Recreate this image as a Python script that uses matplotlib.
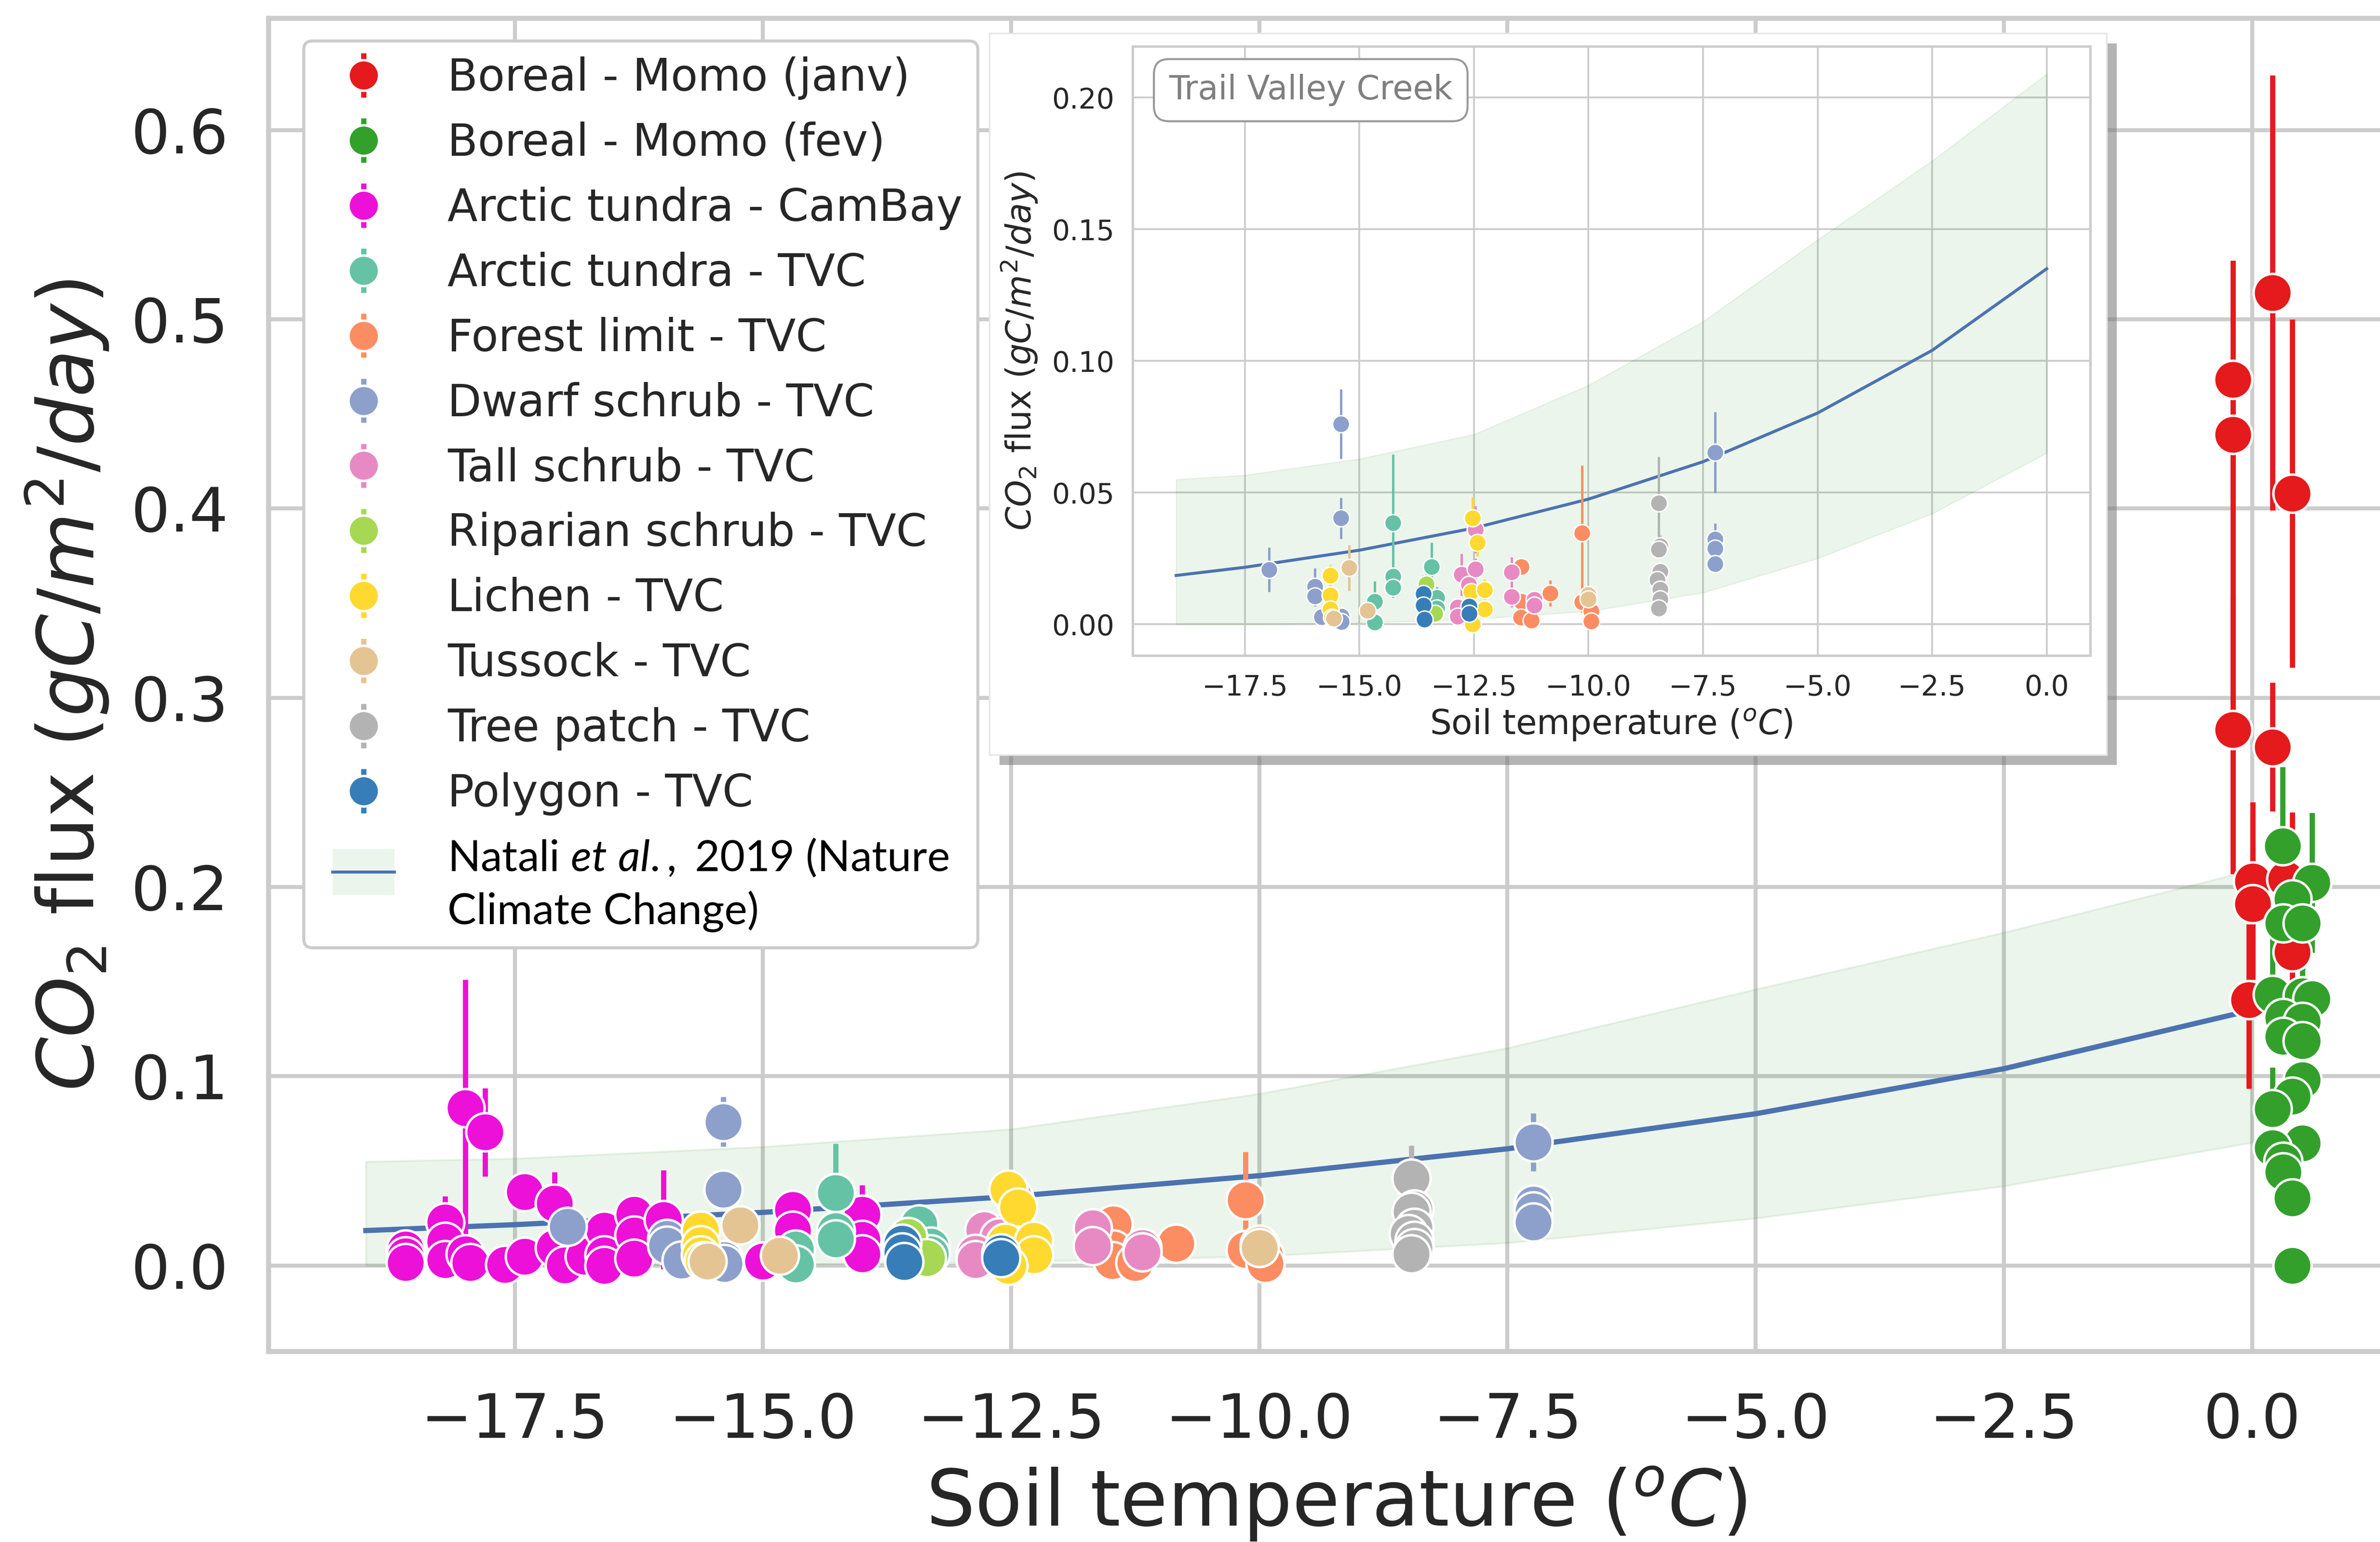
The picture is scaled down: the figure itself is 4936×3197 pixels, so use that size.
import matplotlib
matplotlib.use('Agg')
import matplotlib.pyplot as plt
import matplotlib.patheffects as pe
from matplotlib.patches import Rectangle
from matplotlib.lines import Line2D
from matplotlib.legend_handler import HandlerBase

# values (soil temperature in degC, CO2 flux in gC/m2/day)

# Boreal - Momo (janv), bars are not symmetric
janv_t = [-0.19, -0.19, -0.19, 0.206, 0.206, 0.405, 0.007, 0.007, -0.03, 0.405, 0.34]
janv_f = [0.468, 0.439, 0.283, 0.514, 0.274, 0.408, 0.203, 0.191, 0.1405, 0.1655, 0.204]
janv_lo = [0.063, 0.232, 0.07, 0.115, 0.034, 0.092, 0.05, 0.04, 0.047, 0.03, 0.02]
janv_hi = [0.063, 0.02, 0.07, 0.115, 0.034, 0.092, 0.042, 0.03, 0.04, 0.074, 0.02]

# Boreal - Momo (fev)
fev_t = [0.306, 0.605, 0.406, 0.314, 0.505, 0.206, 0.505, 0.605, 0.314, 0.505, 0.314,
         0.505, 0.505, 0.406, 0.206, 0.505, 0.206, 0.314, 0.314, 0.406, 0.406]
fev_f = [0.2216, 0.2023, 0.1937, 0.181, 0.181, 0.1433, 0.1423, 0.141, 0.131, 0.129, 0.121,
         0.1186, 0.098, 0.0895, 0.0827, 0.0647, 0.0622, 0.055, 0.0494, 0.0357, 0.0]
fev_e = [0.042, 0.037, 0.02, 0.015, 0.015, 0.03, 0.02, 0.01, 0.01, 0.01, 0.01,
         0.015, 0.01, 0.01, 0.022, 0.01, 0.01, 0.01, 0.01, 0.01, 0.0]

# Arctic tundra - CamBay
camb_t = [-18.6, -18.6, -18.6, -18.2, -18.2, -18.2, -18.0, -17.8, -18.0, -17.95, -17.6,
          -17.4, -17.4, -17.1, -17.1, -17.0, -16.8, -16.6, -16.6, -16.6, -16.3, -16.3,
          -16.3, -16.0, -15.0, -14.7, -14.7, -14.0, -14.0, -14.0]
camb_f = [0.0087, 0.005, 0.0015, 0.023, 0.0126, 0.0029, 0.0832, 0.0705, 0.0061, 0.0015, 0.0006,
          0.039, 0.0048, 0.0328, 0.0094, 0.0003, 0.0048, 0.0185, 0.0055, 0.0, 0.0269, 0.016,
          0.0039, 0.0243, 0.0023, 0.0296, 0.0185, 0.027, 0.0137, 0.0061]
camb_e = [0.005, 0.004, 0.006, 0.0137, 0.005, 0.004, 0.068, 0.0233, 0.004, 0.003, 0.003,
          0.005, 0.003, 0.0165, 0.004, 0.003, 0.003, 0.004, 0.003, 0.003, 0.004, 0.004,
          0.003, 0.026, 0.003, 0.004, 0.004, 0.0156, 0.004, 0.003]

# Arctic tundra - TVC
tund_t = [-14.27, -14.27, -14.27, -14.67, -14.67, -13.43, -13.31, -13.31]
tund_f = [0.0385, 0.0182, 0.0140, 0.0087, 0.0007, 0.0218, 0.0101, 0.0060]
tund_e = [0.026, 0.004, 0.004, 0.0077, 0.003, 0.0092, 0.004, 0.003]

# Forest limit - TVC
forest_t = [-11.47, -10.84, -11.47, -11.48, -11.25, -10.14, -10.14, -9.94, -9.94]
forest_f = [0.0218, 0.0117, 0.0086, 0.0026, 0.0015, 0.0346, 0.0084, 0.0049, 0.0011]
forest_e = [0.003, 0.005, 0.003, 0.003, 0.003, 0.0256, 0.004, 0.003, 0.002]

# Dwarf schrub - TVC
dwarf_t = [-15.40, -15.40, -16.97, -15.97, -15.97, -15.82, -15.39, -15.39, -7.24, -7.24, -7.24, -7.24]
dwarf_f = [0.0760, 0.0403, 0.0207, 0.0143, 0.0107, 0.0028, 0.0030, 0.0010, 0.0652, 0.0323, 0.0288, 0.0230]
dwarf_e = [0.0132, 0.0078, 0.0085, 0.007, 0.004, 0.003, 0.003, 0.002, 0.0154, 0.006, 0.004, 0.003]

# Tall schrub - TVC
tall_t = [-12.77, -12.47, -12.47, -12.62, -12.86, -12.86, -11.68, -11.68, -11.18, -11.18]
tall_f = [0.0188, 0.0359, 0.0209, 0.0150, 0.0064, 0.0030, 0.0198, 0.0105, 0.0093, 0.0071]
tall_e = [0.008, 0.009, 0.004, 0.004, 0.003, 0.003, 0.0056, 0.004, 0.003, 0.003]

# Riparian schrub - TVC
ripa_t = [-13.54, -13.35]
ripa_f = [0.0153, 0.0041]
ripa_e = [0.004, 0.003]

# Lichen - TVC
lichen_t = [-15.63, -15.63, -15.63, -15.60, -12.53, -12.43, -12.56, -12.27, -12.27, -12.53]
lichen_f = [0.0185, 0.0110, 0.0056, 0.0025, 0.0403, 0.0309, 0.0123, 0.0131, 0.0056, 0.0000]
lichen_e = [0.004, 0.003, 0.003, 0.002, 0.008, 0.005, 0.004, 0.004, 0.003, 0.002]

# Tussock - TVC
tuss_t = [-15.23, -15.56, -14.83, -10.00, -10.00]
tuss_f = [0.0214, 0.0022, 0.0052, 0.0112, 0.0095]
tuss_e = [0.0087, 0.002, 0.002, 0.003, 0.002]

# Tree patch - TVC
tree_t = [-8.47, -8.44, -8.47, -8.44, -8.50, -8.44, -8.44, -8.47]
tree_f = [0.0460, 0.0297, 0.0284, 0.0200, 0.0168, 0.0132, 0.0095, 0.0060]
tree_e = [0.0175, 0.004, 0.003, 0.003, 0.003, 0.003, 0.003, 0.003]

# Polygon - TVC
poly_t = [-13.60, -13.60, -13.58, -12.60, -12.60]
poly_f = [0.0116, 0.0071, 0.0019, 0.0067, 0.0041]
poly_e = [0.007, 0.003, 0.002, 0.003, 0.002]

# Natali et al. 2019 curve and band, read at these temperatures
natali_t = [-19, -17.5, -15, -12.5, -10, -7.5, -5, -2.5, 0]
natali_mid = [0.0185, 0.0216, 0.0281, 0.0365, 0.0475, 0.0617, 0.0802, 0.1040, 0.1350]
natali_hi = [0.0550, 0.0566, 0.0628, 0.0721, 0.0908, 0.1150, 0.1460, 0.1760, 0.2090]
natali_lo = [0.0, 0.0, 0.0004, 0.0020, 0.0049, 0.0120, 0.0250, 0.0420, 0.0650]

series = [
    ('Boreal - Momo (janv)', '#e41a1c', janv_t, janv_f, [janv_lo, janv_hi], False),
    ('Boreal - Momo (fev)', '#33a02c', fev_t, fev_f, fev_e, False),
    ('Arctic tundra - CamBay', '#ec10d8', camb_t, camb_f, camb_e, False),
    ('Arctic tundra - TVC', '#66c2a5', tund_t, tund_f, tund_e, True),
    ('Forest limit - TVC', '#fc8d62', forest_t, forest_f, forest_e, True),
    ('Dwarf schrub - TVC', '#8da0cb', dwarf_t, dwarf_f, dwarf_e, True),
    ('Tall schrub - TVC', '#e78ac3', tall_t, tall_f, tall_e, True),
    ('Riparian schrub - TVC', '#a6d854', ripa_t, ripa_f, ripa_e, True),
    ('Lichen - TVC', '#ffd92f', lichen_t, lichen_f, lichen_e, True),
    ('Tussock - TVC', '#e5c494', tuss_t, tuss_f, tuss_e, True),
    ('Tree patch - TVC', '#b3b3b3', tree_t, tree_f, tree_e, True),
    ('Polygon - TVC', '#377eb8', poly_t, poly_f, poly_e, True),
]

CURVE = '#4c72b0'
TXT = '#262626'
plt.rcParams['font.family'] = ['DejaVu Sans']
plt.rcParams['mathtext.it'] = 'Lato:italic'
plt.rcParams['mathtext.rm'] = 'Lato'


def style(a, lw_grid, lw_spine, size, pad):
    a.grid(True, color='#cccccc', lw=lw_grid)
    a.set_axisbelow(True)
    for s in a.spines.values():
        s.set_color('#cccccc')
        s.set_linewidth(lw_spine)
    a.tick_params(length=0, labelsize=size, pad=pad, colors=TXT)


def draw(a, ms, mew, elw, clw, blw, tvc_only):
    a.fill_between(natali_t, natali_lo, natali_hi, color='green', alpha=0.08, lw=blw, zorder=1)
    a.plot(natali_t, natali_mid, color=CURVE, lw=clw, zorder=1.5)
    out = []
    for name, col, t, f, err, tvc in series:
        if tvc_only and not tvc:
            continue
        eb = a.errorbar(t, f, yerr=err, fmt='o', color=col, ecolor=col, ms=ms,
                        mec='white', mew=mew, elinewidth=elw, capsize=0, label=name)
        out.append(eb)
    return out


class NataliHandler(HandlerBase):
    # light band with the fitted line across it
    def create_artists(self, legend, orig_handle, xdescent, ydescent, width, height, fontsize, trans):
        w = 1.4 * fontsize
        h = 1.05 * fontsize
        x0 = (width - w) / 2 - xdescent
        yc = height / 2 - ydescent + 0.3 * fontsize
        rect = Rectangle((x0, yc - h / 2), w, h, facecolor='#ebf5eb', edgecolor='none', transform=trans)
        line = Line2D([x0, x0 + w], [yc, yc], color=CURVE, lw=1.5, transform=trans)
        return [rect, line]


fig = plt.figure(figsize=(4936 / 300, 3197 / 300), dpi=300)
ax = fig.add_axes([0.11284, 0.12355, 0.89721, 0.86456])
style(ax, 2.0, 2.5, 30.5, 20)
handles = draw(ax, 19, 1.2, 2.6, 2.6, 1.0, False)
ax.set_xlim(-19.98, 1.53)
ax.set_ylim(-0.0454, 0.659)
ax.set_xticks([-17.5, -15, -12.5, -10, -7.5, -5, -2.5, 0])
ax.set_xticklabels(['\u221217.5', '\u221215.0', '\u221212.5', '\u221210.0', '\u22127.5',
                    '\u22125.0', '\u22122.5', '0.0'])
ax.set_yticks([0, 0.1, 0.2, 0.3, 0.4, 0.5, 0.6])
ax.set_xlabel('Soil temperature ($^oC$)', fontsize=38.5, color=TXT, labelpad=7)
ax.set_ylabel('$CO_2$ flux ($gC/m^2/day$)', fontsize=38.5, color=TXT, labelpad=10)

natali_handle = object()
leg = ax.legend(handles + [natali_handle],
                [h.get_label() for h in handles] + ['Natali $\\mathit{et\\ al.,}$ 2019 (Nature\nClimate Change)'],
                handler_map={natali_handle: NataliHandler()},
                loc='upper left', bbox_to_anchor=(630 / 4936, 1 - 85 / 3197),
                bbox_transform=fig.transFigure, borderaxespad=0, fontsize=22,
                handlelength=2.0, handletextpad=0.9, labelspacing=0.49, borderpad=0.35,
                markerscale=0.8, frameon=True, fancybox=True, framealpha=1,
                edgecolor='#cccccc', facecolor='white')
leg.get_frame().set_linewidth(1.5)
for t in leg.get_texts():
    t.set_color(TXT)
nat = leg.get_texts()[-1]
nat.set_fontfamily('Lato')
nat.set_fontsize(21.5)
nat.set_linespacing(1.35)
nat.set_math_fontfamily('custom')
nat.set_color('black')

# white box with a shadow behind the inset
box = Rectangle((0.41572, 0.51048), 0.46941, 0.46794, transform=fig.transFigure,
                facecolor='white', edgecolor='#e6e6e6', lw=0.8, zorder=1,
                path_effects=[pe.withSimplePatchShadow(offset=(5, -5), shadow_rgbFace='#777777', alpha=0.55)])
fig.patches.append(box)

ins = fig.add_axes([0.47589, 0.57491, 0.40235, 0.39506])
ins.set_zorder(2)
style(ins, 0.9, 1.2, 14, 9)
draw(ins, 8.5, 0.7, 1.2, 1.5, 0.6, True)
ins.set_xlim(-19.95, 0.95)
ins.set_ylim(-0.0119, 0.2195)
ins.set_xticks([-17.5, -15, -12.5, -10, -7.5, -5, -2.5, 0])
ins.set_yticks([0, 0.05, 0.10, 0.15, 0.20])
ins.set_yticklabels(['0.00', '0.05', '0.10', '0.15', '0.20'])
ins.set_xlabel('Soil temperature ($^oC$)', fontsize=17, color=TXT, labelpad=3)
ins.set_ylabel('$CO_2$ flux ($gC/m^2/day$)', fontsize=17, color=TXT, labelpad=6)
ins.text(0.186, 0.928, 'Trail Valley Creek', transform=ins.transAxes, ha='center', va='center',
         fontsize=16.5, color='#7f7f7f',
         bbox=dict(boxstyle='round,pad=0.45', fc='white', ec='#999999', lw=1.0))

fig.savefig('out.png', dpi=300)
